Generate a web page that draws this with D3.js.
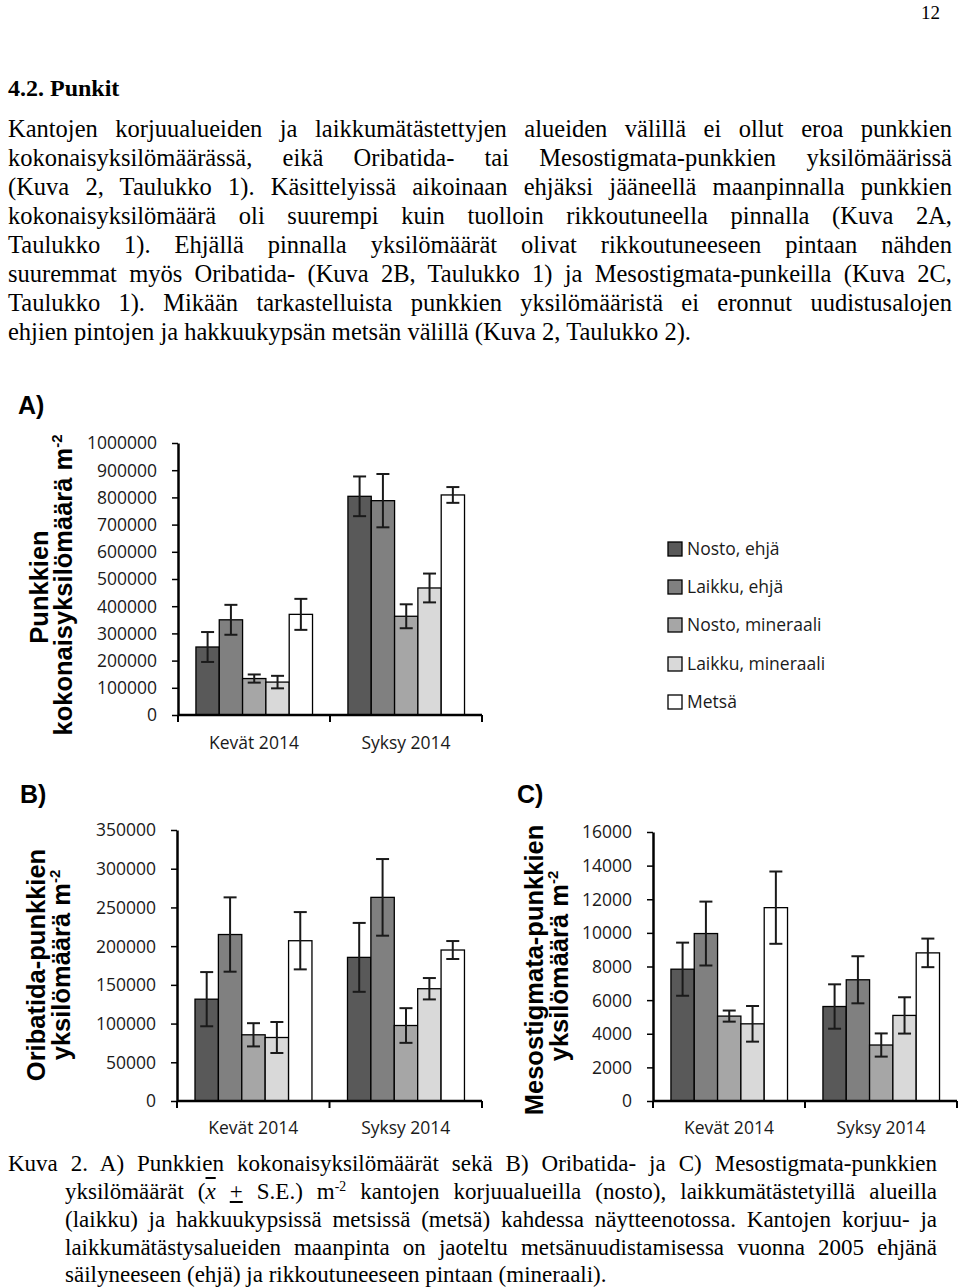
<!DOCTYPE html>
<html>
<head>
<meta charset="utf-8">
<script src="https://cdn.jsdelivr.net/npm/d3@7"></script>
<style>
  html, body { margin: 0; padding: 0; background: #fff; }
  #page { position: relative; width: 960px; height: 1287px; overflow: hidden; }
  .tl { position: absolute; font-family: "Liberation Serif", "Times New Roman", serif; line-height: 1; white-space: nowrap; color: #000; }
  .just { text-align: justify; text-align-last: justify; white-space: normal; }
  svg { position: absolute; left: 0; top: 0; }
  .tick text { font-family: "Open Sans", sans-serif; }
</style>
</head>
<body>
<div id="page"></div>
<script>
// ---------------- DATA ----------------
const seasons = ["Kevät 2014", "Syksy 2014"];
const series = ["Nosto, ehjä", "Laikku, ehjä", "Nosto, mineraali", "Laikku, mineraali", "Metsä"];
const seriesColors = ["#595959", "#808080", "#a6a6a6", "#d9d9d9", "#ffffff"];

// A) Punkkien kokonaisyksilömäärä m-2 (mean, SE) per season, per series
const totalMean = [[250000, 350000, 134000, 121000, 370000], [804000, 788000, 363000, 467000, 809000]];
const totalSE   = [[55000, 55000, 15000, 23000, 57000], [73000, 98000, 44000, 53000, 29000]];
const totalTicks = [0, 100000, 200000, 300000, 400000, 500000, 600000, 700000, 800000, 900000, 1000000];

// B) Oribatida-punkkien yksilömäärä m-2
const oribMean = [[131500, 215000, 85500, 82000, 207000], [185500, 263000, 97500, 145000, 195000]];
const oribSE   = [[35000, 48000, 15000, 20000, 37000], [44500, 49500, 22400, 13800, 11600]];
const oribTicks = [0, 50000, 100000, 150000, 200000, 250000, 300000, 350000];

// C) Mesostigmata-punkkien yksilömäärä m-2
const mesoMean = [[7840, 9960, 5050, 4590, 11500], [5620, 7210, 3330, 5090, 8810]];
const mesoSE   = [[1580, 1900, 330, 1060, 2150], [1320, 1400, 690, 1080, 850]];
const mesoTicks = [0, 2000, 4000, 6000, 8000, 10000, 12000, 14000, 16000];

// ---------------- TEXT ----------------
const bodyLines = [
  "Kantojen korjuualueiden ja laikkumätästettyjen alueiden välillä ei ollut eroa punkkien",
  "kokonaisyksilömäärässä, eikä Oribatida- tai Mesostigmata-punkkien yksilömäärissä",
  "(Kuva 2, Taulukko 1). Käsittelyissä aikoinaan ehjäksi jääneellä maanpinnalla punkkien",
  "kokonaisyksilömäärä oli suurempi kuin tuolloin rikkoutuneella pinnalla (Kuva 2A,",
  "Taulukko 1). Ehjällä pinnalla yksilömäärät olivat rikkoutuneeseen pintaan nähden",
  "suuremmat myös Oribatida- (Kuva 2B, Taulukko 1) ja Mesostigmata-punkeilla (Kuva 2C,",
  "Taulukko 1). Mikään tarkastelluista punkkien yksilömääristä ei eronnut uudistusalojen",
  "ehjien pintojen ja hakkuukypsän metsän välillä (Kuva 2, Taulukko 2)."
];
const captionLines = [
  "Kuva 2. A) Punkkien kokonaisyksilömäärät sekä B) Oribatida- ja C) Mesostigmata-punkkien",
  "yksilömäärät (<span style='font-style:italic;text-decoration:overline'>x</span> <span style='text-decoration:underline'>+</span> S.E.) m<sup style='font-size:0.6em;vertical-align:0.6em;line-height:0'>-2</sup> kantojen korjuualueilla (nosto), laikkumätästetyillä alueilla",
  "(laikku) ja hakkuukypsissä metsissä (metsä) kahdessa näytteenotossa. Kantojen korjuu- ja",
  "laikkumätästysalueiden maanpinta on jaoteltu metsänuudistamisessa vuonna 2005 ehjänä",
  "säilyneeseen (ehjä) ja rikkoutuneeseen pintaan (mineraali)."
];

const page = d3.select("#page");

function textLine(html, x, baseline, fs, width, justify, extra) {
  const d = page.append("div")
    .attr("class", "tl" + (justify ? " just" : ""))
    .style("left", x + "px")
    .style("top", (baseline - 0.8375 * fs) + "px")
    .style("font-size", fs + "px")
    .html(html);
  if (width) d.style("width", width + "px");
  if (extra) Object.entries(extra).forEach(([k, v]) => d.style(k, v));
  return d;
}

textLine("12", 916, 19, 19, 24, false, {"text-align": "right"});
textLine("4.2. Punkit", 8, 96, 24, null, false, {"font-weight": "bold"});
const bodyBase = [138, 167, 196, 225, 254, 283, 312, 341];
bodyLines.forEach((l, i) => textLine(l, 8, bodyBase[i], 24.5, 944, i < bodyLines.length - 1));
const capBase = [1171, 1199, 1227, 1255, 1282];
captionLines.forEach((l, i) => {
  const x = i === 0 ? 8 : 65;
  textLine(l, x, capBase[i], 23, 937 - x, i < captionLines.length - 1);
});

// ---------------- CHARTS ----------------
const svg = page.append("svg").attr("width", 960).attr("height", 1287);

function drawChart(cfg) {
  const g = svg.append("g");
  const x = d3.scaleBand().domain(seasons).range([cfg.left, cfg.right]).padding(0);
  const x1 = d3.scaleBand().domain(series)
    .range([x.bandwidth() * 0.118, x.bandwidth() * 0.885]).padding(0);
  const y = d3.scaleLinear().domain([0, cfg.max]).range([cfg.bottom, cfg.top]);

  // bars
  seasons.forEach((s, si) => {
    const gg = g.append("g").attr("transform", `translate(${x(s)},0)`);
    gg.selectAll("rect").data(series).join("rect")
      .attr("x", d => x1(d))
      .attr("width", x1.bandwidth())
      .attr("y", (d, i) => y(cfg.mean[si][i]))
      .attr("height", (d, i) => cfg.bottom - y(cfg.mean[si][i]))
      .attr("fill", (d, i) => seriesColors[i])
      .attr("stroke", "#000").attr("stroke-width", 1.3);
    // error bars
    const eb = gg.selectAll("g.eb").data(series).join("g").attr("class", "eb")
      .attr("stroke", "#1a1a1a").attr("stroke-width", 2);
    eb.append("line")
      .attr("x1", d => x1(d) + x1.bandwidth() / 2).attr("x2", d => x1(d) + x1.bandwidth() / 2)
      .attr("y1", (d, i) => y(cfg.mean[si][i] + cfg.se[si][i]))
      .attr("y2", (d, i) => y(cfg.mean[si][i] - cfg.se[si][i]));
    [1, -1].forEach(sg => {
      eb.append("line")
        .attr("x1", d => x1(d) + x1.bandwidth() / 2 - 6.5).attr("x2", d => x1(d) + x1.bandwidth() / 2 + 6.5)
        .attr("y1", (d, i) => y(cfg.mean[si][i] + sg * cfg.se[si][i]))
        .attr("y2", (d, i) => y(cfg.mean[si][i] + sg * cfg.se[si][i]));
    });
  });

  // y axis
  const ya = g.append("g").attr("transform", `translate(${cfg.left},0)`)
    .call(d3.axisLeft(y).tickValues(cfg.ticks).tickFormat(d3.format("d")).tickSize(6).tickPadding(15).tickSizeOuter(0));
  ya.select(".domain").attr("stroke", "#000").attr("stroke-width", 2.5);
  ya.selectAll(".tick line").attr("stroke", "#000").attr("stroke-width", 1.5);
  ya.selectAll(".tick text").attr("font-size", 17.5).attr("fill", "#1a1a1a").attr("dy", "0.34em");

  // x axis
  const xa = g.append("g");
  xa.append("line").attr("x1", cfg.left).attr("x2", cfg.right)
    .attr("y1", cfg.bottom).attr("y2", cfg.bottom)
    .attr("stroke", "#000").attr("stroke-width", 2.5);
  const bounds = [x(seasons[0])].concat(seasons.map(s => x(s) + x.bandwidth()));
  xa.selectAll("line.t").data(bounds).join("line").attr("class", "t")
    .attr("x1", d => d).attr("x2", d => d)
    .attr("y1", cfg.bottom).attr("y2", cfg.bottom + 7)
    .attr("stroke", "#000").attr("stroke-width", 2);
  xa.selectAll("text").data(seasons).join("text")
    .attr("x", d => x(d) + x.bandwidth() / 2)
    .attr("y", cfg.catY)
    .attr("text-anchor", "middle")
    .attr("font-family", "Open Sans, sans-serif").attr("font-size", 17.5).attr("fill", "#1a1a1a")
    .text(d => d);

  // axis titles
  cfg.titles.forEach(t => {
    const tx = g.append("text")
      .attr("transform", `translate(${t.x},${t.cy}) rotate(-90)`)
      .attr("text-anchor", "middle")
      .attr("font-family", "Liberation Sans, Arial, sans-serif")
      .attr("font-weight", "bold").attr("font-size", 25.5).attr("fill", "#000");
    tx.append("tspan").text(t.text);
    if (t.sup) {
      tx.append("tspan").attr("font-size", 15).attr("baseline-shift", "10").text(t.sup);
    }
  });

  // panel label
  g.append("text").attr("x", cfg.label[0]).attr("y", cfg.label[1])
    .attr("font-family", "Liberation Sans, Arial, sans-serif")
    .attr("font-weight", "bold").attr("font-size", 25).text(cfg.label[2]);
}

drawChart({
  left: 178, right: 482, top: 443, bottom: 715, max: 1000000,
  mean: totalMean, se: totalSE, ticks: totalTicks, catY: 749,
  titles: [{x: 48, cy: 587, text: "Punkkien"}, {x: 72, cy: 585, text: "kokonaisyksilömäärä m", sup: "-2"}],
  label: [18, 414, "A)"]
});
drawChart({
  left: 177, right: 482, top: 830, bottom: 1101, max: 350000,
  mean: oribMean, se: oribSE, ticks: oribTicks, catY: 1134,
  titles: [{x: 45, cy: 965, text: "Oribatida-punkkien"}, {x: 70, cy: 965, text: "yksilömäärä m", sup: "-2"}],
  label: [20, 803, "B)"]
});
drawChart({
  left: 653, right: 957, top: 832, bottom: 1101, max: 16000,
  mean: mesoMean, se: mesoSE, ticks: mesoTicks, catY: 1134,
  titles: [{x: 543, cy: 970, text: "Mesostigmata-punkkien"}, {x: 568, cy: 966, text: "yksilömäärä m", sup: "-2"}],
  label: [517, 803, "C)"]
});

// legend
const legY = [549, 587, 625, 664, 702];
const leg = svg.append("g");
leg.selectAll("rect").data(series).join("rect")
  .attr("x", 668).attr("y", (d, i) => legY[i] - 7).attr("width", 14).attr("height", 14)
  .attr("fill", (d, i) => seriesColors[i]).attr("stroke", "#000").attr("stroke-width", 1.3);
leg.selectAll("text").data(series).join("text")
  .attr("x", 687).attr("y", (d, i) => legY[i]).attr("dy", "0.35em")
  .attr("font-family", "Open Sans, sans-serif").attr("font-size", 17.5).attr("fill", "#1a1a1a")
  .text(d => d);
</script>
</body>
</html>
